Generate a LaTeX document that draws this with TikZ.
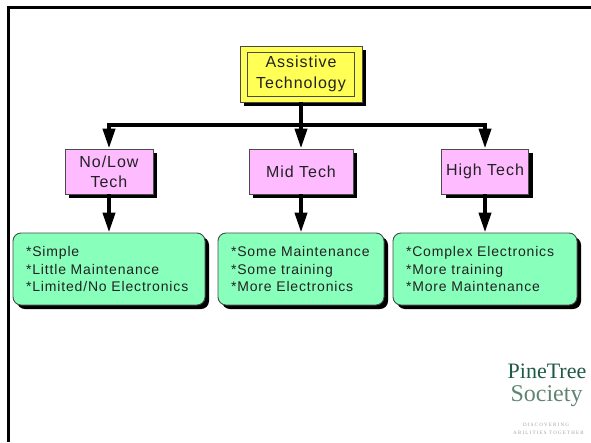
\documentclass[tikz,border=0pt]{standalone}
\usepackage{fontspec}
\setmainfont{Liberation Sans}
\newfontfamily\lbl[LetterSpace=6]{Liberation Sans}
\newfontfamily\logofont{Liberation Serif}
\newfontfamily\tagfont[LetterSpace=24]{Liberation Serif}
\usepackage{xcolor}
\usepackage{tikz}
\usetikzlibrary{calc,arrows.meta,shadows}
\definecolor{ink}{HTML}{222222}
\definecolor{edge}{HTML}{4A4A4A}
\definecolor{topfill}{HTML}{FFFF55}
\definecolor{midfill}{HTML}{FFBBFF}
\definecolor{leaffill}{HTML}{88FFBB}
\definecolor{pine}{HTML}{1F5A44}
\definecolor{soc}{HTML}{5F8574}
\definecolor{tag}{HTML}{9AA5A0}
\tikzset{
  shade/.style={drop shadow={fill=black, opacity=1, shadow xshift=4pt, shadow yshift=-4pt}},
  box/.style={draw=edge, line width=0.9pt, text=ink, align=center, inner sep=0pt},
  topout/.style={box, fill=topfill, shade, minimum width=122pt, minimum height=56pt},
  topin/.style={box, fill=topfill, minimum width=107pt, minimum height=44pt, font=\lbl\fontsize{16}{21}\selectfont},
  mid/.style={box, fill=midfill, shade, minimum height=45pt, font=\lbl\fontsize{16}{20}\selectfont},
  leaf/.style={box, fill=leaffill, shade, rounded corners=8pt, align=left, minimum height=72pt, inner xsep=13pt, font=\lbl\fontsize{14}{17.5}\selectfont},
  link/.style={draw=black, line width=4pt},
  arr/.style={link, -{Triangle[length=20pt,width=12pt]}},
  frame/.style={draw=black, line width=3pt},
  pinetext/.style={anchor=base, inner sep=0pt, text=pine, font=\logofont\fontsize{22}{22}\selectfont},
  soctext/.style={anchor=base, inner sep=0pt, text=soc, font=\logofont\fontsize{24}{24}\selectfont},
  tagtext/.style={anchor=base, inner sep=0pt, text=tag, font=\tagfont\fontsize{5}{5}\selectfont}
}

\begin{document}
\begin{tikzpicture}[x=1pt, y=-1pt]
  \useasboundingbox (0,0) rectangle (591,442);
  \draw[frame] (8.5,442) -- (8.5,7.2) -- (591,7.2);

  % root
  \node[topout] (at) at (301,74) {};
  \node[topin] (atx) at (at) {Assistive\\Technology};

  % levels
  \node[mid, minimum width=88pt] (nl) at (109,171.5) {No/Low\\Tech};
  \node[mid, minimum width=104pt] (md) at (301,171.5) {Mid Tech};
  \node[mid, minimum width=87pt] (hi) at (485,171.5) {High Tech};

  \node[leaf, text width=166pt] (lnl) at (109,269) {*Simple\\{*}Little Maintenance\\{*}Limited/No Electronics};
  \node[leaf, text width=140pt] (lmd) at (301,269) {*Some Maintenance\\{*}Some training\\{*}More Electronics};
  \node[leaf, text width=158pt] (lhi) at (485,269) {*Complex Electronics\\{*}More training\\{*}More Maintenance};

  \coordinate (j) at (301,125);
  \draw[link] (at.south) -- (j);
  \draw[arr] (j) -| (nl.north);
  \draw[arr] (j) -| (hi.north);
  \draw[arr] (j) -- (md.north);
  \draw[arr] (nl.south) -- (lnl.north);
  \draw[arr] (md.south) -- (lmd.north);
  \draw[arr] (hi.south) -- (lhi.north);

  % logo
  \node[pinetext] (pt) at (547,378) {PineTree};
  \node[soctext] (so) at (546.5,401) {Society};
  \node[tagtext] (t1) at (546,426) {DISCOVERING};
  \node[tagtext] (t2) at (548.5,434) {ABILITIES TOGETHER};
\end{tikzpicture}
\end{document}
